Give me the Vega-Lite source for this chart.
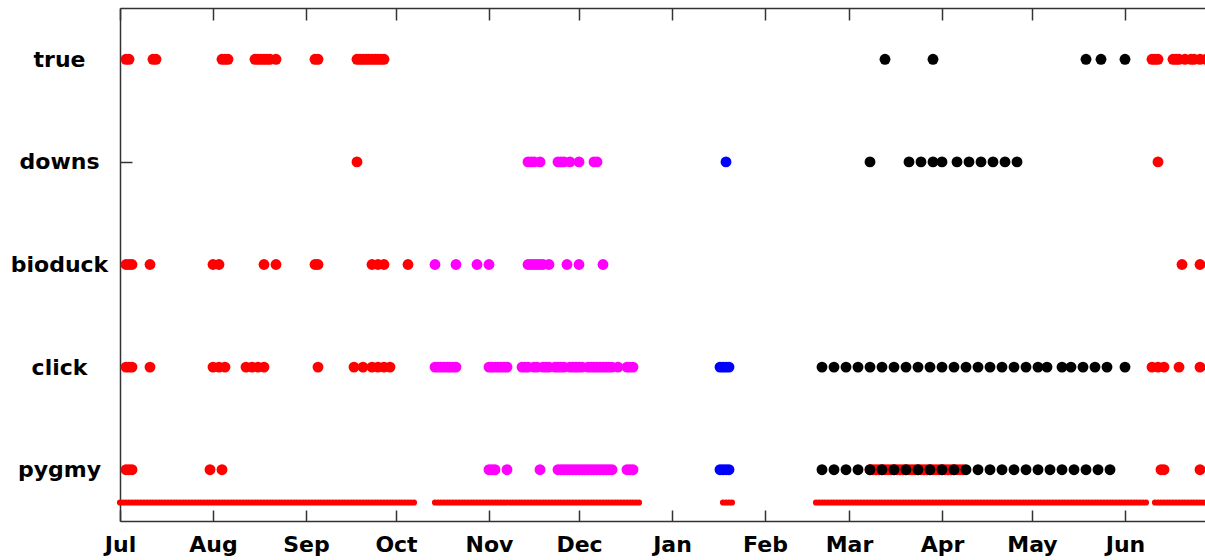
{
  "$schema": "https://vega.github.io/schema/vega-lite/v6.json",
  "width": 1085,
  "height": 513,
  "autosize": {"type": "none"},
  "padding": {"left": 120, "top": 8, "right": 0, "bottom": 39},
  "background": "white",
  "config": {
    "view": {"stroke": null},
    "axis": {
      "grid": false,
      "title": null,
      "domainColor": "#333333",
      "domainWidth": 1.5,
      "tickColor": "#333333",
      "tickWidth": 1.5,
      "labelFont": "DejaVu Sans",
      "labelFontWeight": "bold",
      "labelFontSize": 22,
      "labelColor": "#000000",
      "labelFlush": false,
      "labelOverlap": false
    }
  },
  "datasets": {
    "effort": [
      {"d":"2013-07-01"},{"d":"2013-07-02"},{"d":"2013-07-03"},{"d":"2013-07-04"},{"d":"2013-07-05"},{"d":"2013-07-06"},{"d":"2013-07-07"},{"d":"2013-07-08"},{"d":"2013-07-09"},{"d":"2013-07-10"},
      {"d":"2013-07-11"},{"d":"2013-07-12"},{"d":"2013-07-13"},{"d":"2013-07-14"},{"d":"2013-07-15"},{"d":"2013-07-16"},{"d":"2013-07-17"},{"d":"2013-07-18"},{"d":"2013-07-19"},{"d":"2013-07-20"},
      {"d":"2013-07-21"},{"d":"2013-07-22"},{"d":"2013-07-23"},{"d":"2013-07-24"},{"d":"2013-07-25"},{"d":"2013-07-26"},{"d":"2013-07-27"},{"d":"2013-07-28"},{"d":"2013-07-29"},{"d":"2013-07-30"},{"d":"2013-07-31"},
      {"d":"2013-08-01"},{"d":"2013-08-02"},{"d":"2013-08-03"},{"d":"2013-08-04"},{"d":"2013-08-05"},{"d":"2013-08-06"},{"d":"2013-08-07"},{"d":"2013-08-08"},{"d":"2013-08-09"},{"d":"2013-08-10"},
      {"d":"2013-08-11"},{"d":"2013-08-12"},{"d":"2013-08-13"},{"d":"2013-08-14"},{"d":"2013-08-15"},{"d":"2013-08-16"},{"d":"2013-08-17"},{"d":"2013-08-18"},{"d":"2013-08-19"},{"d":"2013-08-20"},
      {"d":"2013-08-21"},{"d":"2013-08-22"},{"d":"2013-08-23"},{"d":"2013-08-24"},{"d":"2013-08-25"},{"d":"2013-08-26"},{"d":"2013-08-27"},{"d":"2013-08-28"},{"d":"2013-08-29"},{"d":"2013-08-30"},{"d":"2013-08-31"},
      {"d":"2013-09-01"},{"d":"2013-09-02"},{"d":"2013-09-03"},{"d":"2013-09-04"},{"d":"2013-09-05"},{"d":"2013-09-06"},{"d":"2013-09-07"},{"d":"2013-09-08"},{"d":"2013-09-09"},{"d":"2013-09-10"},
      {"d":"2013-09-11"},{"d":"2013-09-12"},{"d":"2013-09-13"},{"d":"2013-09-14"},{"d":"2013-09-15"},{"d":"2013-09-16"},{"d":"2013-09-17"},{"d":"2013-09-18"},{"d":"2013-09-19"},{"d":"2013-09-20"},
      {"d":"2013-09-21"},{"d":"2013-09-22"},{"d":"2013-09-23"},{"d":"2013-09-24"},{"d":"2013-09-25"},{"d":"2013-09-26"},{"d":"2013-09-27"},{"d":"2013-09-28"},{"d":"2013-09-29"},{"d":"2013-09-30"},
      {"d":"2013-10-01"},{"d":"2013-10-02"},{"d":"2013-10-03"},{"d":"2013-10-04"},{"d":"2013-10-05"},{"d":"2013-10-06"},{"d":"2013-10-07"},
      {"d":"2013-10-14"},{"d":"2013-10-15"},{"d":"2013-10-16"},{"d":"2013-10-17"},{"d":"2013-10-18"},{"d":"2013-10-19"},{"d":"2013-10-20"},{"d":"2013-10-21"},{"d":"2013-10-22"},
      {"d":"2013-10-23"},{"d":"2013-10-24"},{"d":"2013-10-25"},{"d":"2013-10-26"},{"d":"2013-10-27"},{"d":"2013-10-28"},{"d":"2013-10-29"},{"d":"2013-10-30"},{"d":"2013-10-31"},
      {"d":"2013-11-01"},{"d":"2013-11-02"},{"d":"2013-11-03"},{"d":"2013-11-04"},{"d":"2013-11-05"},{"d":"2013-11-06"},{"d":"2013-11-07"},{"d":"2013-11-08"},{"d":"2013-11-09"},{"d":"2013-11-10"},
      {"d":"2013-11-11"},{"d":"2013-11-12"},{"d":"2013-11-13"},{"d":"2013-11-14"},{"d":"2013-11-15"},{"d":"2013-11-16"},{"d":"2013-11-17"},{"d":"2013-11-18"},{"d":"2013-11-19"},{"d":"2013-11-20"},
      {"d":"2013-11-21"},{"d":"2013-11-22"},{"d":"2013-11-23"},{"d":"2013-11-24"},{"d":"2013-11-25"},{"d":"2013-11-26"},{"d":"2013-11-27"},{"d":"2013-11-28"},{"d":"2013-11-29"},{"d":"2013-11-30"},
      {"d":"2013-12-01"},{"d":"2013-12-02"},{"d":"2013-12-03"},{"d":"2013-12-04"},{"d":"2013-12-05"},{"d":"2013-12-06"},{"d":"2013-12-07"},{"d":"2013-12-08"},{"d":"2013-12-09"},{"d":"2013-12-10"},
      {"d":"2013-12-11"},{"d":"2013-12-12"},{"d":"2013-12-13"},{"d":"2013-12-14"},{"d":"2013-12-15"},{"d":"2013-12-16"},{"d":"2013-12-17"},{"d":"2013-12-18"},{"d":"2013-12-19"},{"d":"2013-12-20"},{"d":"2013-12-21"},
      {"d":"2014-01-18"},{"d":"2014-01-19"},{"d":"2014-01-20"},{"d":"2014-01-21"},
      {"d":"2014-02-18"},{"d":"2014-02-19"},{"d":"2014-02-20"},{"d":"2014-02-21"},{"d":"2014-02-22"},{"d":"2014-02-23"},{"d":"2014-02-24"},{"d":"2014-02-25"},{"d":"2014-02-26"},{"d":"2014-02-27"},{"d":"2014-02-28"},
      {"d":"2014-03-01"},{"d":"2014-03-02"},{"d":"2014-03-03"},{"d":"2014-03-04"},{"d":"2014-03-05"},{"d":"2014-03-06"},{"d":"2014-03-07"},{"d":"2014-03-08"},{"d":"2014-03-09"},{"d":"2014-03-10"},
      {"d":"2014-03-11"},{"d":"2014-03-12"},{"d":"2014-03-13"},{"d":"2014-03-14"},{"d":"2014-03-15"},{"d":"2014-03-16"},{"d":"2014-03-17"},{"d":"2014-03-18"},{"d":"2014-03-19"},{"d":"2014-03-20"},
      {"d":"2014-03-21"},{"d":"2014-03-22"},{"d":"2014-03-23"},{"d":"2014-03-24"},{"d":"2014-03-25"},{"d":"2014-03-26"},{"d":"2014-03-27"},{"d":"2014-03-28"},{"d":"2014-03-29"},{"d":"2014-03-30"},{"d":"2014-03-31"},
      {"d":"2014-04-01"},{"d":"2014-04-02"},{"d":"2014-04-03"},{"d":"2014-04-04"},{"d":"2014-04-05"},{"d":"2014-04-06"},{"d":"2014-04-07"},{"d":"2014-04-08"},{"d":"2014-04-09"},{"d":"2014-04-10"},
      {"d":"2014-04-11"},{"d":"2014-04-12"},{"d":"2014-04-13"},{"d":"2014-04-14"},{"d":"2014-04-15"},{"d":"2014-04-16"},{"d":"2014-04-17"},{"d":"2014-04-18"},{"d":"2014-04-19"},{"d":"2014-04-20"},
      {"d":"2014-04-21"},{"d":"2014-04-22"},{"d":"2014-04-23"},{"d":"2014-04-24"},{"d":"2014-04-25"},{"d":"2014-04-26"},{"d":"2014-04-27"},{"d":"2014-04-28"},{"d":"2014-04-29"},{"d":"2014-04-30"},
      {"d":"2014-05-01"},{"d":"2014-05-02"},{"d":"2014-05-03"},{"d":"2014-05-04"},{"d":"2014-05-05"},{"d":"2014-05-06"},{"d":"2014-05-07"},{"d":"2014-05-08"},{"d":"2014-05-09"},{"d":"2014-05-10"},
      {"d":"2014-05-11"},{"d":"2014-05-12"},{"d":"2014-05-13"},{"d":"2014-05-14"},{"d":"2014-05-15"},{"d":"2014-05-16"},{"d":"2014-05-17"},{"d":"2014-05-18"},{"d":"2014-05-19"},{"d":"2014-05-20"},
      {"d":"2014-05-21"},{"d":"2014-05-22"},{"d":"2014-05-23"},{"d":"2014-05-24"},{"d":"2014-05-25"},{"d":"2014-05-26"},{"d":"2014-05-27"},{"d":"2014-05-28"},{"d":"2014-05-29"},{"d":"2014-05-30"},{"d":"2014-05-31"},
      {"d":"2014-06-01"},{"d":"2014-06-02"},{"d":"2014-06-03"},{"d":"2014-06-04"},{"d":"2014-06-05"},{"d":"2014-06-06"},{"d":"2014-06-07"},{"d":"2014-06-08"},
      {"d":"2014-06-11"},{"d":"2014-06-12"},{"d":"2014-06-13"},{"d":"2014-06-14"},{"d":"2014-06-15"},{"d":"2014-06-16"},{"d":"2014-06-17"},{"d":"2014-06-18"},{"d":"2014-06-19"},{"d":"2014-06-20"},
      {"d":"2014-06-21"},{"d":"2014-06-22"},{"d":"2014-06-23"},{"d":"2014-06-24"},{"d":"2014-06-25"},{"d":"2014-06-26"},{"d":"2014-06-27"},{"d":"2014-06-28"}
    ],
    "calls": [
      {"d":"2013-07-03","call":"true","g":"A"},{"d":"2013-07-04","call":"true","g":"A"},{"d":"2013-07-12","call":"true","g":"A"},{"d":"2013-07-13","call":"true","g":"A"},
      {"d":"2013-08-04","call":"true","g":"A"},{"d":"2013-08-05","call":"true","g":"A"},{"d":"2013-08-06","call":"true","g":"A"},
      {"d":"2013-08-15","call":"true","g":"A"},{"d":"2013-08-16","call":"true","g":"A"},{"d":"2013-08-17","call":"true","g":"A"},{"d":"2013-08-18","call":"true","g":"A"},{"d":"2013-08-19","call":"true","g":"A"},{"d":"2013-08-20","call":"true","g":"A"},{"d":"2013-08-22","call":"true","g":"A"},
      {"d":"2013-09-04","call":"true","g":"A"},{"d":"2013-09-05","call":"true","g":"A"},
      {"d":"2013-09-18","call":"true","g":"A"},{"d":"2013-09-19","call":"true","g":"A"},{"d":"2013-09-20","call":"true","g":"A"},{"d":"2013-09-21","call":"true","g":"A"},{"d":"2013-09-22","call":"true","g":"A"},
      {"d":"2013-09-23","call":"true","g":"A"},{"d":"2013-09-24","call":"true","g":"A"},{"d":"2013-09-25","call":"true","g":"A"},{"d":"2013-09-26","call":"true","g":"A"},{"d":"2013-09-27","call":"true","g":"A"},
      {"d":"2014-06-10","call":"true","g":"A"},{"d":"2014-06-11","call":"true","g":"A"},{"d":"2014-06-12","call":"true","g":"A"},{"d":"2014-06-17","call":"true","g":"A"},{"d":"2014-06-18","call":"true","g":"A"},
      {"d":"2014-06-19","call":"true","g":"A"},{"d":"2014-06-21","call":"true","g":"A"},{"d":"2014-06-23","call":"true","g":"A"},{"d":"2014-06-24","call":"true","g":"A"},{"d":"2014-06-26","call":"true","g":"A"},{"d":"2014-06-28","call":"true","g":"A"},
      {"d":"2014-03-13","call":"true","g":"D"},{"d":"2014-03-29","call":"true","g":"D"},{"d":"2014-05-19","call":"true","g":"D"},{"d":"2014-05-24","call":"true","g":"D"},{"d":"2014-06-01","call":"true","g":"D"},

      {"d":"2013-09-18","call":"downs","g":"A"},{"d":"2014-06-12","call":"downs","g":"A"},
      {"d":"2013-11-14","call":"downs","g":"B"},{"d":"2013-11-15","call":"downs","g":"B"},{"d":"2013-11-16","call":"downs","g":"B"},{"d":"2013-11-18","call":"downs","g":"B"},
      {"d":"2013-11-24","call":"downs","g":"B"},{"d":"2013-11-25","call":"downs","g":"B"},{"d":"2013-11-26","call":"downs","g":"B"},{"d":"2013-11-28","call":"downs","g":"B"},
      {"d":"2013-12-01","call":"downs","g":"B"},{"d":"2013-12-06","call":"downs","g":"B"},{"d":"2013-12-07","call":"downs","g":"B"},
      {"d":"2014-01-19","call":"downs","g":"C"},
      {"d":"2014-03-08","call":"downs","g":"D"},{"d":"2014-03-21","call":"downs","g":"D"},{"d":"2014-03-25","call":"downs","g":"D"},{"d":"2014-03-29","call":"downs","g":"D"},
      {"d":"2014-04-01","call":"downs","g":"D"},{"d":"2014-04-06","call":"downs","g":"D"},{"d":"2014-04-10","call":"downs","g":"D"},{"d":"2014-04-14","call":"downs","g":"D"},
      {"d":"2014-04-18","call":"downs","g":"D"},{"d":"2014-04-22","call":"downs","g":"D"},{"d":"2014-04-26","call":"downs","g":"D"},

      {"d":"2013-07-03","call":"bioduck","g":"A"},{"d":"2013-07-04","call":"bioduck","g":"A"},{"d":"2013-07-05","call":"bioduck","g":"A"},{"d":"2013-07-11","call":"bioduck","g":"A"},
      {"d":"2013-08-01","call":"bioduck","g":"A"},{"d":"2013-08-03","call":"bioduck","g":"A"},{"d":"2013-08-18","call":"bioduck","g":"A"},{"d":"2013-08-22","call":"bioduck","g":"A"},
      {"d":"2013-09-04","call":"bioduck","g":"A"},{"d":"2013-09-05","call":"bioduck","g":"A"},{"d":"2013-09-23","call":"bioduck","g":"A"},{"d":"2013-09-25","call":"bioduck","g":"A"},
      {"d":"2013-09-27","call":"bioduck","g":"A"},{"d":"2013-10-05","call":"bioduck","g":"A"},{"d":"2014-06-20","call":"bioduck","g":"A"},{"d":"2014-06-26","call":"bioduck","g":"A"},
      {"d":"2013-10-14","call":"bioduck","g":"B"},{"d":"2013-10-21","call":"bioduck","g":"B"},{"d":"2013-10-28","call":"bioduck","g":"B"},{"d":"2013-11-01","call":"bioduck","g":"B"},
      {"d":"2013-11-14","call":"bioduck","g":"B"},{"d":"2013-11-15","call":"bioduck","g":"B"},{"d":"2013-11-16","call":"bioduck","g":"B"},{"d":"2013-11-17","call":"bioduck","g":"B"},
      {"d":"2013-11-18","call":"bioduck","g":"B"},{"d":"2013-11-19","call":"bioduck","g":"B"},{"d":"2013-11-21","call":"bioduck","g":"B"},{"d":"2013-11-27","call":"bioduck","g":"B"},
      {"d":"2013-12-01","call":"bioduck","g":"B"},{"d":"2013-12-09","call":"bioduck","g":"B"},

      {"d":"2013-07-03","call":"click","g":"A"},{"d":"2013-07-04","call":"click","g":"A"},{"d":"2013-07-05","call":"click","g":"A"},{"d":"2013-07-11","call":"click","g":"A"},
      {"d":"2013-08-01","call":"click","g":"A"},{"d":"2013-08-03","call":"click","g":"A"},{"d":"2013-08-05","call":"click","g":"A"},
      {"d":"2013-08-12","call":"click","g":"A"},{"d":"2013-08-14","call":"click","g":"A"},{"d":"2013-08-16","call":"click","g":"A"},{"d":"2013-08-18","call":"click","g":"A"},
      {"d":"2013-09-05","call":"click","g":"A"},{"d":"2013-09-17","call":"click","g":"A"},{"d":"2013-09-20","call":"click","g":"A"},{"d":"2013-09-23","call":"click","g":"A"},
      {"d":"2013-09-25","call":"click","g":"A"},{"d":"2013-09-27","call":"click","g":"A"},{"d":"2013-09-29","call":"click","g":"A"},
      {"d":"2014-06-10","call":"click","g":"A"},{"d":"2014-06-12","call":"click","g":"A"},{"d":"2014-06-14","call":"click","g":"A"},{"d":"2014-06-19","call":"click","g":"A"},{"d":"2014-06-26","call":"click","g":"A"},
      {"d":"2013-10-14","call":"click","g":"B"},{"d":"2013-10-15","call":"click","g":"B"},{"d":"2013-10-16","call":"click","g":"B"},{"d":"2013-10-17","call":"click","g":"B"},
      {"d":"2013-10-18","call":"click","g":"B"},{"d":"2013-10-19","call":"click","g":"B"},{"d":"2013-10-20","call":"click","g":"B"},{"d":"2013-10-21","call":"click","g":"B"},
      {"d":"2013-11-01","call":"click","g":"B"},{"d":"2013-11-02","call":"click","g":"B"},{"d":"2013-11-03","call":"click","g":"B"},{"d":"2013-11-04","call":"click","g":"B"},
      {"d":"2013-11-05","call":"click","g":"B"},{"d":"2013-11-06","call":"click","g":"B"},{"d":"2013-11-07","call":"click","g":"B"},
      {"d":"2013-11-12","call":"click","g":"B"},{"d":"2013-11-13","call":"click","g":"B"},{"d":"2013-11-14","call":"click","g":"B"},{"d":"2013-11-16","call":"click","g":"B"},
      {"d":"2013-11-17","call":"click","g":"B"},{"d":"2013-11-19","call":"click","g":"B"},{"d":"2013-11-20","call":"click","g":"B"},{"d":"2013-11-21","call":"click","g":"B"},
      {"d":"2013-11-23","call":"click","g":"B"},{"d":"2013-11-24","call":"click","g":"B"},{"d":"2013-11-25","call":"click","g":"B"},{"d":"2013-11-26","call":"click","g":"B"},
      {"d":"2013-11-28","call":"click","g":"B"},{"d":"2013-11-29","call":"click","g":"B"},{"d":"2013-11-30","call":"click","g":"B"},{"d":"2013-12-01","call":"click","g":"B"},
      {"d":"2013-12-02","call":"click","g":"B"},{"d":"2013-12-04","call":"click","g":"B"},{"d":"2013-12-05","call":"click","g":"B"},{"d":"2013-12-06","call":"click","g":"B"},
      {"d":"2013-12-07","call":"click","g":"B"},{"d":"2013-12-08","call":"click","g":"B"},{"d":"2013-12-09","call":"click","g":"B"},{"d":"2013-12-10","call":"click","g":"B"},
      {"d":"2013-12-11","call":"click","g":"B"},{"d":"2013-12-12","call":"click","g":"B"},{"d":"2013-12-14","call":"click","g":"B"},{"d":"2013-12-17","call":"click","g":"B"},
      {"d":"2013-12-18","call":"click","g":"B"},{"d":"2013-12-19","call":"click","g":"B"},
      {"d":"2014-01-17","call":"click","g":"C"},{"d":"2014-01-18","call":"click","g":"C"},{"d":"2014-01-19","call":"click","g":"C"},{"d":"2014-01-20","call":"click","g":"C"},
      {"d":"2014-02-20","call":"click","g":"D"},{"d":"2014-02-24","call":"click","g":"D"},{"d":"2014-02-28","call":"click","g":"D"},{"d":"2014-03-04","call":"click","g":"D"},
      {"d":"2014-03-08","call":"click","g":"D"},{"d":"2014-03-12","call":"click","g":"D"},{"d":"2014-03-16","call":"click","g":"D"},{"d":"2014-03-20","call":"click","g":"D"},
      {"d":"2014-03-24","call":"click","g":"D"},{"d":"2014-03-28","call":"click","g":"D"},{"d":"2014-04-01","call":"click","g":"D"},{"d":"2014-04-05","call":"click","g":"D"},
      {"d":"2014-04-09","call":"click","g":"D"},{"d":"2014-04-13","call":"click","g":"D"},{"d":"2014-04-17","call":"click","g":"D"},{"d":"2014-04-21","call":"click","g":"D"},
      {"d":"2014-04-25","call":"click","g":"D"},{"d":"2014-04-29","call":"click","g":"D"},{"d":"2014-05-03","call":"click","g":"D"},{"d":"2014-05-06","call":"click","g":"D"},
      {"d":"2014-05-11","call":"click","g":"D"},{"d":"2014-05-14","call":"click","g":"D"},{"d":"2014-05-18","call":"click","g":"D"},{"d":"2014-05-22","call":"click","g":"D"},
      {"d":"2014-05-26","call":"click","g":"D"},{"d":"2014-06-01","call":"click","g":"D"},

      {"d":"2013-07-03","call":"pygmy","g":"A"},{"d":"2013-07-04","call":"pygmy","g":"A"},{"d":"2013-07-05","call":"pygmy","g":"A"},{"d":"2013-07-31","call":"pygmy","g":"A"},{"d":"2013-08-04","call":"pygmy","g":"A"},
      {"d":"2014-03-08","call":"pygmy","g":"A"},{"d":"2014-03-09","call":"pygmy","g":"A"},{"d":"2014-03-10","call":"pygmy","g":"A"},{"d":"2014-03-11","call":"pygmy","g":"A"},
      {"d":"2014-03-12","call":"pygmy","g":"A"},{"d":"2014-03-13","call":"pygmy","g":"A"},{"d":"2014-03-14","call":"pygmy","g":"A"},{"d":"2014-03-15","call":"pygmy","g":"A"},
      {"d":"2014-03-16","call":"pygmy","g":"A"},{"d":"2014-03-17","call":"pygmy","g":"A"},{"d":"2014-03-18","call":"pygmy","g":"A"},{"d":"2014-03-19","call":"pygmy","g":"A"},
      {"d":"2014-03-20","call":"pygmy","g":"A"},{"d":"2014-03-21","call":"pygmy","g":"A"},{"d":"2014-03-22","call":"pygmy","g":"A"},{"d":"2014-03-23","call":"pygmy","g":"A"},
      {"d":"2014-03-24","call":"pygmy","g":"A"},{"d":"2014-03-25","call":"pygmy","g":"A"},{"d":"2014-03-26","call":"pygmy","g":"A"},{"d":"2014-03-27","call":"pygmy","g":"A"},
      {"d":"2014-03-28","call":"pygmy","g":"A"},{"d":"2014-03-29","call":"pygmy","g":"A"},{"d":"2014-03-30","call":"pygmy","g":"A"},{"d":"2014-03-31","call":"pygmy","g":"A"},
      {"d":"2014-04-01","call":"pygmy","g":"A"},{"d":"2014-04-02","call":"pygmy","g":"A"},{"d":"2014-04-03","call":"pygmy","g":"A"},{"d":"2014-04-04","call":"pygmy","g":"A"},
      {"d":"2014-04-05","call":"pygmy","g":"A"},{"d":"2014-04-06","call":"pygmy","g":"A"},{"d":"2014-04-07","call":"pygmy","g":"A"},{"d":"2014-04-08","call":"pygmy","g":"A"},
      {"d":"2014-06-13","call":"pygmy","g":"A"},{"d":"2014-06-14","call":"pygmy","g":"A"},{"d":"2014-06-26","call":"pygmy","g":"A"},
      {"d":"2013-11-01","call":"pygmy","g":"B"},{"d":"2013-11-02","call":"pygmy","g":"B"},{"d":"2013-11-03","call":"pygmy","g":"B"},{"d":"2013-11-07","call":"pygmy","g":"B"},{"d":"2013-11-18","call":"pygmy","g":"B"},
      {"d":"2013-11-24","call":"pygmy","g":"B"},{"d":"2013-11-25","call":"pygmy","g":"B"},{"d":"2013-11-26","call":"pygmy","g":"B"},{"d":"2013-11-27","call":"pygmy","g":"B"},
      {"d":"2013-11-28","call":"pygmy","g":"B"},{"d":"2013-11-29","call":"pygmy","g":"B"},{"d":"2013-11-30","call":"pygmy","g":"B"},{"d":"2013-12-01","call":"pygmy","g":"B"},
      {"d":"2013-12-02","call":"pygmy","g":"B"},{"d":"2013-12-03","call":"pygmy","g":"B"},{"d":"2013-12-04","call":"pygmy","g":"B"},{"d":"2013-12-05","call":"pygmy","g":"B"},
      {"d":"2013-12-06","call":"pygmy","g":"B"},{"d":"2013-12-07","call":"pygmy","g":"B"},{"d":"2013-12-08","call":"pygmy","g":"B"},{"d":"2013-12-09","call":"pygmy","g":"B"},
      {"d":"2013-12-10","call":"pygmy","g":"B"},{"d":"2013-12-11","call":"pygmy","g":"B"},{"d":"2013-12-12","call":"pygmy","g":"B"},
      {"d":"2013-12-17","call":"pygmy","g":"B"},{"d":"2013-12-18","call":"pygmy","g":"B"},{"d":"2013-12-19","call":"pygmy","g":"B"},
      {"d":"2014-01-17","call":"pygmy","g":"C"},{"d":"2014-01-18","call":"pygmy","g":"C"},{"d":"2014-01-19","call":"pygmy","g":"C"},{"d":"2014-01-20","call":"pygmy","g":"C"},
      {"d":"2014-02-20","call":"pygmy","g":"D"},{"d":"2014-02-24","call":"pygmy","g":"D"},{"d":"2014-02-28","call":"pygmy","g":"D"},{"d":"2014-03-04","call":"pygmy","g":"D"},
      {"d":"2014-03-08","call":"pygmy","g":"D"},{"d":"2014-03-12","call":"pygmy","g":"D"},{"d":"2014-03-16","call":"pygmy","g":"D"},{"d":"2014-03-20","call":"pygmy","g":"D"},
      {"d":"2014-03-24","call":"pygmy","g":"D"},{"d":"2014-03-28","call":"pygmy","g":"D"},{"d":"2014-04-01","call":"pygmy","g":"D"},{"d":"2014-04-05","call":"pygmy","g":"D"},
      {"d":"2014-04-09","call":"pygmy","g":"D"},{"d":"2014-04-13","call":"pygmy","g":"D"},{"d":"2014-04-17","call":"pygmy","g":"D"},{"d":"2014-04-21","call":"pygmy","g":"D"},
      {"d":"2014-04-25","call":"pygmy","g":"D"},{"d":"2014-04-29","call":"pygmy","g":"D"},{"d":"2014-05-03","call":"pygmy","g":"D"},{"d":"2014-05-07","call":"pygmy","g":"D"},
      {"d":"2014-05-11","call":"pygmy","g":"D"},{"d":"2014-05-15","call":"pygmy","g":"D"},{"d":"2014-05-19","call":"pygmy","g":"D"},{"d":"2014-05-23","call":"pygmy","g":"D"},
      {"d":"2014-05-27","call":"pygmy","g":"D"}
    ]
  },
  "layer": [
    {
      "data": {"name": "effort"},
      "mark": {"type": "circle", "size": 38, "opacity": 1, "color": "#ff0000"},
      "encoding": {
        "x": {
          "field": "d",
          "type": "temporal",
          "scale": {
            "type": "utc",
            "domain": [
              {"year": 2013, "month": 7, "date": 1, "utc": true},
              {"year": 2014, "month": 6, "date": 27, "hours": 16, "utc": true}
            ]
          },
          "axis": {
            "orient": "bottom",
            "values": [
              {"year": 2013, "month": 7, "date": 1, "utc": true},
              {"year": 2013, "month": 8, "date": 1, "utc": true},
              {"year": 2013, "month": 9, "date": 1, "utc": true},
              {"year": 2013, "month": 10, "date": 1, "utc": true},
              {"year": 2013, "month": 11, "date": 1, "utc": true},
              {"year": 2013, "month": 12, "date": 1, "utc": true},
              {"year": 2014, "month": 1, "date": 1, "utc": true},
              {"year": 2014, "month": 2, "date": 1, "utc": true},
              {"year": 2014, "month": 3, "date": 1, "utc": true},
              {"year": 2014, "month": 4, "date": 1, "utc": true},
              {"year": 2014, "month": 5, "date": 1, "utc": true},
              {"year": 2014, "month": 6, "date": 1, "utc": true}
            ],
            "labelExpr": "utcFormat(datum.value, '%b')",
            "tickSize": -11,
            "labelPadding": 24
          }
        },
        "y": {
          "datum": 0.68,
          "type": "quantitative",
          "scale": {"domain": [0.5, 5.5], "nice": false, "zero": false},
          "axis": null
        }
      }
    },
    {
      "data": {"name": "calls"},
      "mark": {"type": "circle", "size": 118, "opacity": 1},
      "encoding": {
        "x": {
          "field": "d",
          "type": "temporal",
          "scale": {
            "type": "utc",
            "domain": [
              {"year": 2013, "month": 7, "date": 1, "utc": true},
              {"year": 2014, "month": 6, "date": 27, "hours": 16, "utc": true}
            ]
          },
          "axis": {
            "orient": "top",
            "values": [
              {"year": 2013, "month": 7, "date": 1, "utc": true},
              {"year": 2013, "month": 8, "date": 1, "utc": true},
              {"year": 2013, "month": 9, "date": 1, "utc": true},
              {"year": 2013, "month": 10, "date": 1, "utc": true},
              {"year": 2013, "month": 11, "date": 1, "utc": true},
              {"year": 2013, "month": 12, "date": 1, "utc": true},
              {"year": 2014, "month": 1, "date": 1, "utc": true},
              {"year": 2014, "month": 2, "date": 1, "utc": true},
              {"year": 2014, "month": 3, "date": 1, "utc": true},
              {"year": 2014, "month": 4, "date": 1, "utc": true},
              {"year": 2014, "month": 5, "date": 1, "utc": true},
              {"year": 2014, "month": 6, "date": 1, "utc": true}
            ],
            "labels": false,
            "tickSize": -12
          }
        },
        "y": {
          "field": "call",
          "type": "nominal",
          "scale": {"type": "point", "domain": ["true", "downs", "bioduck", "click", "pygmy"], "padding": 0.5},
          "axis": {"orient": "left", "tickSize": -12, "labelPadding": 73, "labelAlign": "center"}
        },
        "color": {
          "field": "g",
          "type": "nominal",
          "scale": {"domain": ["A", "B", "C", "D"], "range": ["#ff0000", "#ff00ff", "#0000ff", "#000000"]},
          "legend": null
        }
      }
    }
  ],
  "resolve": {
    "scale": {"y": "independent"},
    "axis": {"x": "independent", "y": "independent"}
  }
}
